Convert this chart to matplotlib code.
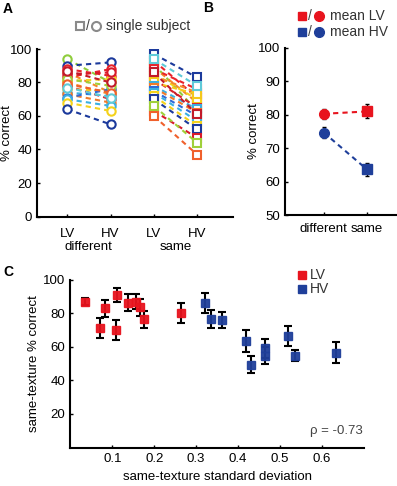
import numpy as np
import matplotlib
matplotlib.use('Agg')
import matplotlib.pyplot as plt

plt.rcParams['font.family'] = ['Liberation Sans', 'DejaVu Sans']
plt.rcParams['font.size'] = 9

# ---- panel A: single subjects ----
lv_diff = [94, 90, 88, 86, 83, 81, 80, 78, 76, 74, 73, 71, 70, 68, 64, 85, 82, 79, 77, 87]
hv_diff = [80, 92, 84, 74, 88, 82, 73, 70, 75, 72, 68, 76, 66, 63, 55, 86, 78, 74, 71, 80]
lv_same = [91, 97, 93, 89, 88, 85, 84, 82, 80, 78, 77, 75, 74, 72, 70, 63, 66, 60, 94, 86]
hv_same = [63, 83, 71, 68, 76, 70, 74, 65, 73, 64, 62, 60, 57, 54, 52, 47, 44, 37, 78, 61]
subj_colors = ['#8fcd3c', '#1c3a9c', '#e8232a', '#f5892a', '#e8232a', '#f4d21c', '#f5892a',
               '#d9202a', '#f4c81c', '#3ab0e2', '#f07a2a', '#2f6bd6', '#3ab0e2', '#f4d21c',
               '#1c3a9c', '#d81a2a', '#9fd03a', '#f0602c', '#5fcad8', '#c21a2a']

# ---- panel B: means ----
conds = ['different', 'same']
mean_lv = [80.3, 81.0]
sem_lv = [1.5, 2.1]
mean_hv = [74.7, 63.7]
sem_hv = [1.5, 2.0]

# ---- panel C: same-texture sd vs % correct ----
sd_lv = [0.035, 0.071, 0.082, 0.110, 0.112, 0.137, 0.156, 0.166, 0.175, 0.265]
pc_lv = [86.9, 71.4, 83.0, 70.0, 91.0, 86.3, 86.9, 83.5, 76.4, 80.4]
err_lv = [2.0, 6.0, 5.0, 6.0, 4.0, 5.0, 4.5, 5.0, 5.0, 6.0]
sd_hv = [0.321, 0.336, 0.362, 0.418, 0.430, 0.464, 0.465, 0.520, 0.535, 0.633]
pc_hv = [86.0, 76.6, 76.0, 63.7, 49.3, 59.0, 54.6, 66.7, 54.8, 56.6]
err_hv = [6.0, 5.5, 5.0, 6.5, 5.0, 5.5, 5.0, 6.0, 3.5, 6.5]
rho_text = 'ρ = -0.73'

RED = '#e8141e'
BLUE = '#1f3f9a'

fig = plt.figure(figsize=(3.97, 4.86), dpi=100)
W, H = 397, 486

def px_axes(l, r, t, b):
    return fig.add_axes([l / W, 1 - b / H, (r - l) / W, (b - t) / H])

def style(ax):
    for s in ['top', 'right']:
        ax.spines[s].set_visible(False)
    for s in ['left', 'bottom']:
        ax.spines[s].set_linewidth(1.5)
    ax.tick_params(direction='in', length=2, width=1, labelsize=9.5)

# Panel A
axA = px_axes(37, 233, 49, 216.5)
style(axA)
for i in range(len(lv_diff)):
    c = subj_colors[i]
    axA.plot([1, 2], [lv_diff[i], hv_diff[i]], ls=(0, (2.5, 2)), lw=1.5, color=c,
             marker='o', mfc='white', mec=c, ms=6, mew=1.5)
    axA.plot([3, 4], [lv_same[i], hv_same[i]], ls=(0, (2.5, 2)), lw=1.5, color=c,
             marker='s', mfc='white', mec=c, ms=5.5, mew=1.5)
axA.set_xlim(0.3, 4.83)
axA.set_ylim(0, 100)
axA.set_yticks([0, 20, 40, 60, 80, 100])
axA.set_xticks([1, 2, 3, 4])
axA.set_xticklabels(['LV', 'HV', 'LV', 'HV'])
axA.tick_params(axis='x', pad=8)
axA.set_ylabel('% correct', fontsize=9.5)
axA.yaxis.set_label_coords(-0.122, 0.5)
axA.text(1.5, -0.18, 'different', transform=axA.get_xaxis_transform(), ha='center', va='center', fontsize=9.5)
axA.text(3.5, -0.18, 'same', transform=axA.get_xaxis_transform(), ha='center', va='center', fontsize=9.5)

# Panel B
axB = px_axes(285, 396, 48, 215)
style(axB)
x = [1, 2]
axB.errorbar(x, mean_lv, yerr=sem_lv, color=RED, ls=(0, (2.5, 2)), lw=1.5,
             ecolor='black', elinewidth=1, capsize=1.5, zorder=2)
axB.errorbar(x, mean_hv, yerr=sem_hv, color=BLUE, ls=(0, (2.5, 2)), lw=1.5,
             ecolor='black', elinewidth=1, capsize=1.5, zorder=2)
axB.plot(x[0], mean_lv[0], 'o', color=RED, ms=7, zorder=3)
axB.plot(x[1], mean_lv[1], 's', color=RED, ms=6.5, zorder=3)
axB.plot(x[0], mean_hv[0], 'o', color=BLUE, ms=7, zorder=3)
axB.plot(x[1], mean_hv[1], 's', color=BLUE, ms=6.5, zorder=3)
axB.set_xlim(0.1, 2.68)
axB.set_ylim(50, 100)
axB.set_yticks([50, 60, 70, 80, 90, 100])
axB.set_xticks(x)
axB.set_xticklabels(conds)
axB.tick_params(axis='x', pad=6)
axB.set_ylabel('% correct', fontsize=9.5)
axB.yaxis.set_label_coords(-0.225, 0.5)

# Panel C
axC = px_axes(70.3, 364, 279.7, 447.5)
style(axC)
axC.errorbar(sd_lv, pc_lv, yerr=err_lv, fmt='none', ecolor='black', elinewidth=1.5, capsize=3, capthick=1.5)
axC.errorbar(sd_hv, pc_hv, yerr=err_hv, fmt='none', ecolor='black', elinewidth=1.5, capsize=3, capthick=1.5)
axC.plot(sd_lv, pc_lv, 's', color=RED, ms=6, zorder=3, alpha=0.95)
axC.plot(sd_hv, pc_hv, 's', color=BLUE, ms=6, zorder=3, alpha=0.95)
axC.set_xlim(0, 0.7)
axC.set_ylim(0, 100)
axC.set_xticks([0.1, 0.2, 0.3, 0.4, 0.5, 0.6])
axC.set_yticks([20, 40, 60, 80, 100])
axC.tick_params(axis='x', pad=4)
axC.set_xlabel('same-texture standard deviation', fontsize=9.5)
axC.xaxis.set_label_coords(0.5, -0.14)
axC.set_ylabel('same-texture % correct', fontsize=9.5)
axC.yaxis.set_label_coords(-0.103, 0.5)
axC.text(0.995, 0.1, rho_text, transform=axC.transAxes, ha='right', va='center', fontsize=9.5, color='#444444')

# overlay for panel letters and legends
ov = fig.add_axes([0, 0, 1, 1], zorder=10)
ov.set_xlim(0, W)
ov.set_ylim(H, 0)
ov.axis('off')
for lbl, (lx, ly) in zip('ABC', [(3, 9), (203, 8), (3, 272)]):
    ov.text(lx, ly, lbl, fontsize=10, fontweight='bold', va='center', ha='left')

GRAY = '#8a8a8a'
ov.plot(80, 26, 's', mfc='white', mec=GRAY, ms=6, mew=1.5)
ov.text(87.5, 26, '/', va='center', ha='center', fontsize=10, color='#444444')
ov.plot(96, 26, 'o', mfc='white', mec=GRAY, ms=6.5, mew=1.5)
ov.text(106, 26, 'single subject', va='center', ha='left', fontsize=10, color='#333333')

for yy, col, lab in [(16, RED, 'mean LV'), (32, BLUE, 'mean HV')]:
    ov.plot(302, yy, 's', color=col, ms=6)
    ov.text(310, yy, '/', va='center', ha='center', fontsize=10, color='#444444')
    ov.plot(319, yy, 'o', color=col, ms=7)
    ov.text(330, yy, lab, va='center', ha='left', fontsize=10, color='#333333')

for yy, col, lab in [(275, RED, 'LV'), (289, BLUE, 'HV')]:
    ov.plot(302, yy, 's', color=col, ms=6)
    ov.text(310, yy, lab, va='center', ha='left', fontsize=10, color='#333333')

fig.savefig('out.png', dpi=100)
